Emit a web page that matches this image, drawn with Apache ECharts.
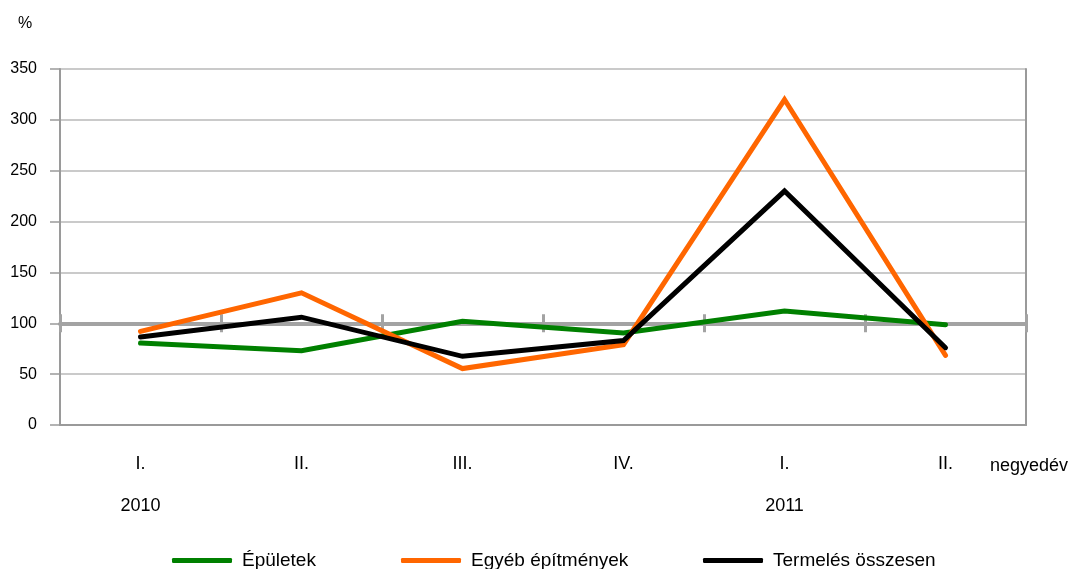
<!DOCTYPE html>
<html>
<head>
<meta charset="utf-8">
<script src="https://cdn.jsdelivr.net/npm/echarts@6/dist/echarts.min.js"></script>
<style>
html,body{margin:0;padding:0;background:#fff;}
#chart{width:1073px;height:569px;}
</style>
</head>
<body>
<div id="chart"></div>
<script>
// negyedévek és évek (x tengely)
var quarters = ['I.', 'II.', 'III.', 'IV.', 'I.', 'II.'];
var years = ['2010', '', '', '', '2011', ''];
// y tengely
var yMin = 0, yMax = 350, yStep = 50;
var baseLine = 100;
// sorozatok, %
var seriesNames = ['Épületek', 'Egyéb építmények', 'Termelés összesen'];
var epuletek = [80.5, 73, 102, 90.5, 112, 98.5];
var egyeb = [92, 130, 55.5, 79, 320, 68.5];
var osszesen = [86.5, 106, 67.5, 83, 230, 76];
var colors = ['#008000', '#ff6600', '#000000'];

var font = "'Liberation Sans', Arial, sans-serif";
var axisGray = '#9a9a9a';

var cats = quarters.map(function (q, i) { return String(i); });

// rács geometria
var gTop = 69, gH = 356, gLeft = 60, gRight = 47;
var baseY = gTop + gH * (yMax - baseLine) / (yMax - yMin);

// jelmagyarázat elemek bal széle
var legendLeft = [172, 401, 703];

var chart = echarts.init(document.getElementById('chart'), null, {renderer: 'canvas'});
var option = {
    backgroundColor: '#fff',
    animation: false,
    textStyle: {fontFamily: font},
    grid: [
        {left: gLeft, right: gRight, top: gTop, height: gH, containLabel: false, outerBoundsMode: 'none'},
        {left: gLeft, right: gRight, top: gTop, height: baseY - gTop, containLabel: false, outerBoundsMode: 'none'},
        {left: gLeft, right: gRight, top: baseY, height: 50, containLabel: false, outerBoundsMode: 'none'}
    ],
    legend: seriesNames.map(function (n, k) {
        return {
            left: legendLeft[k],
            top: 551,
            padding: 0,
            itemWidth: 60,
            itemHeight: 5,
            icon: 'roundRect',
            textStyle: {fontFamily: font, fontSize: 19, color: '#000', padding: [0, 0, 0, 5]},
            data: [n]
        };
    }),
    xAxis: [
        {
            gridIndex: 0, type: 'category', data: cats, boundaryGap: true, position: 'bottom',
            axisLine: {onZero: false, lineStyle: {color: axisGray, width: 2}},
            axisTick: {show: false},
            axisLabel: {
                margin: 29, fontFamily: font, fontSize: 18, color: '#000', lineHeight: 21,
                formatter: function (v, i) { return quarters[i] + '\n\n' + years[i]; }
            },
            splitLine: {show: false}
        },
        {
            gridIndex: 1, type: 'category', data: cats, boundaryGap: true, position: 'bottom',
            axisLine: {onZero: false, lineStyle: {color: '#a3a3a3', width: 4}},
            axisTick: {show: true, inside: true, length: 9, lineStyle: {color: '#a3a3a3', width: 3}},
            axisLabel: {show: false}
        },
        {
            gridIndex: 2, type: 'category', data: cats, boundaryGap: true, position: 'top',
            axisLine: {show: false, onZero: false},
            axisTick: {show: true, inside: true, length: 9, lineStyle: {color: '#a3a3a3', width: 3}},
            axisLabel: {show: false}
        }
    ],
    yAxis: [
        {
            gridIndex: 0, type: 'value', min: yMin, max: yMax, interval: yStep, position: 'left',
            axisLine: {show: true, lineStyle: {color: axisGray, width: 2}},
            axisTick: {show: true, length: 10, lineStyle: {color: axisGray, width: 1.5}},
            axisLabel: {margin: 23, fontSize: 16, color: '#000', fontFamily: font},
            splitLine: {show: true, lineStyle: {color: '#b8b8b8', width: 1.5}}
        },
        {
            gridIndex: 0, type: 'value', min: yMin, max: yMax, interval: yStep, position: 'right',
            axisLine: {show: true, lineStyle: {color: axisGray, width: 2}},
            axisTick: {show: false}, axisLabel: {show: false}, splitLine: {show: false}
        },
        {gridIndex: 1, type: 'value', min: 0, max: 1, show: false},
        {gridIndex: 2, type: 'value', min: 0, max: 1, show: false}
    ],
    graphic: [
        {type: 'text', left: 18, top: 16, style: {text: '%', fontSize: 16, fontFamily: font, fill: '#000'}},
        {type: 'text', left: 990, top: 457, style: {text: 'negyedév', fontSize: 18, fontFamily: font, fill: '#000'}}
    ],
    series: [epuletek, egyeb, osszesen].map(function (d, k) {
        return {
            name: seriesNames[k],
            type: 'line',
            xAxisIndex: 0,
            yAxisIndex: 0,
            data: d,
            symbol: 'none',
            z: 3 + k,
            itemStyle: {color: colors[k]},
            lineStyle: {color: colors[k], width: 5, cap: 'round', join: 'miter'}
        };
    })
};
chart.setOption(option);
</script>
</body>
</html>
